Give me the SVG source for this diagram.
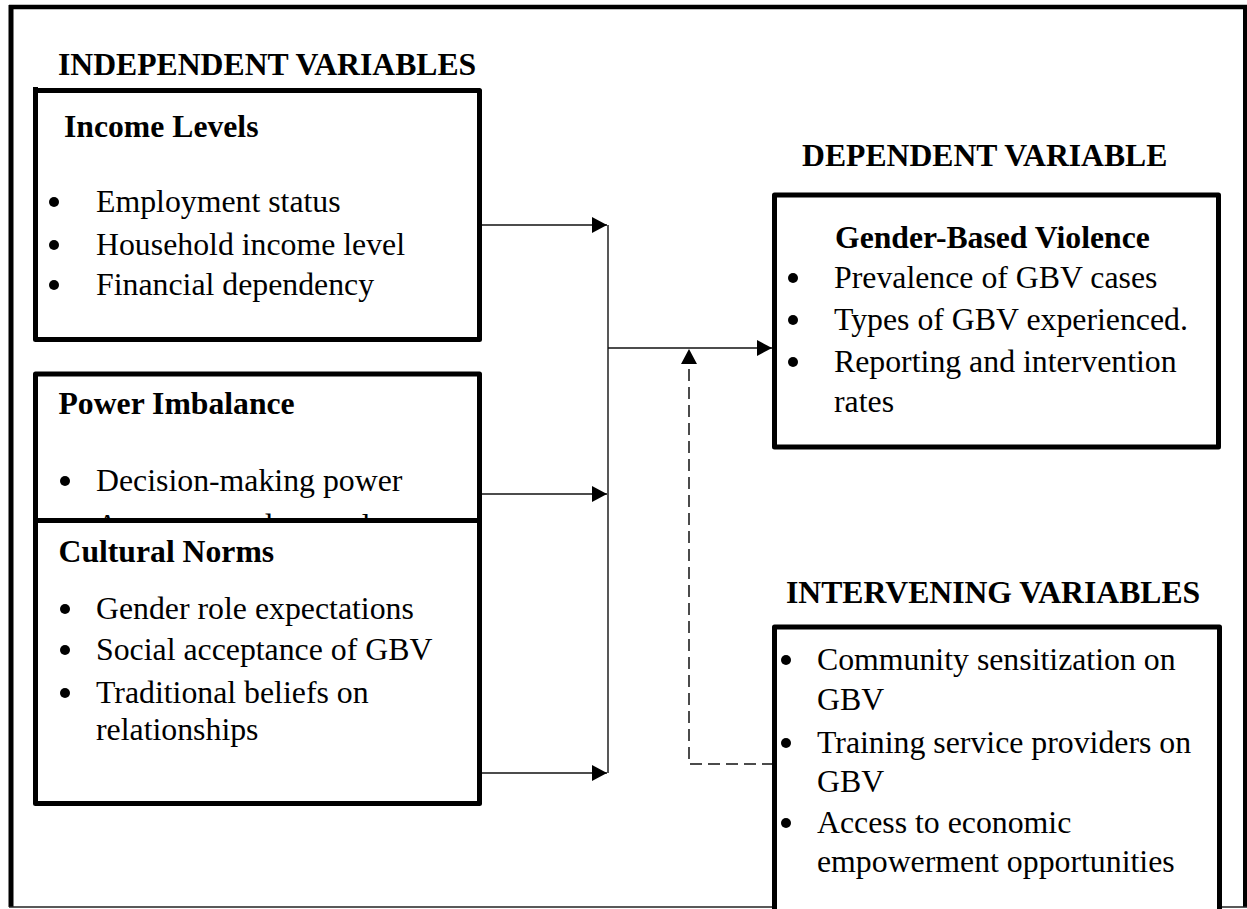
<svg xmlns="http://www.w3.org/2000/svg" width="1247" height="909" viewBox="0 0 1247 909">
<defs>
<marker id="arr" viewBox="0 0 15 16" refX="15" refY="8" markerWidth="15" markerHeight="16" markerUnits="userSpaceOnUse" orient="auto">
<path d="M0,0 L15,8 L0,16 Z" fill="#000"/>
</marker>
<clipPath id="pclip"><rect x="38" y="376" width="439" height="142"/></clipPath>
<style>
.box{fill:#fff;stroke:#000;stroke-width:5;stroke-linejoin:round}
.hd{font-family:"Liberation Serif","Times New Roman",serif;font-weight:bold;font-size:31.7px;fill:#000}
.tx{font-family:"Liberation Serif","Times New Roman",serif;font-size:31.8px;fill:#000}
.bul{fill:#000}
.con{fill:none;stroke:#111;stroke-width:1.4}
.dash{fill:none;stroke:#111;stroke-width:1.5;stroke-dasharray:12 6}
</style>
</defs>
<rect width="1247" height="909" fill="#fff"/>
<g id="frame">
<line x1="9" y1="7" x2="1247" y2="7" stroke="#000" stroke-width="4.5"/>
<line x1="11" y1="5" x2="11" y2="907" stroke="#000" stroke-width="5"/>
<line x1="1245" y1="5" x2="1245" y2="907" stroke="#000" stroke-width="4"/>
<line x1="9" y1="907" x2="1247" y2="907" stroke="#222" stroke-width="1.5"/>
</g>
<g id="headings">
<text class="hd" x="58" y="75">INDEPENDENT VARIABLES</text>
<text class="hd" x="802" y="166">DEPENDENT VARIABLE</text>
<text class="hd" x="786" y="603">INTERVENING VARIABLES</text>
</g>
<g id="connectors">
<line class="con" x1="482" y1="225" x2="607" y2="225" marker-end="url(#arr)"/>
<line class="con" x1="482" y1="494" x2="607" y2="494" marker-end="url(#arr)"/>
<line class="con" x1="482" y1="773" x2="607" y2="773" marker-end="url(#arr)"/>
<line class="con" x1="608" y1="225" x2="608" y2="773"/>
<line class="con" x1="608" y1="348" x2="772" y2="348" marker-end="url(#arr)"/>
<path class="dash" d="M774,764 L689,764 L689,349" marker-end="url(#arr)"/>
</g>
<g id="income">
<rect class="box" x="35.5" y="90.5" width="444" height="249"/>
<line x1="35.5" y1="87" x2="35.5" y2="92" stroke="#000" stroke-width="5"/>
<text class="hd" x="64" y="137">Income Levels</text>
<circle class="bul" cx="54" cy="202" r="5"/><text class="tx" x="96" y="212">Employment status</text>
<circle class="bul" cx="54" cy="245" r="5"/><text class="tx" x="96" y="255">Household income level</text>
<circle class="bul" cx="54" cy="285" r="5"/><text class="tx" x="96" y="295">Financial dependency</text>
</g>
<g id="power">
<rect class="box" x="35.5" y="374" width="444" height="160"/>
<text class="hd" x="58.5" y="414">Power Imbalance</text>
<circle class="bul" cx="65" cy="481" r="5"/><text class="tx" x="96" y="491">Decision-making power</text>
<g clip-path="url(#pclip)"><text class="tx" x="96" y="536">Access to and control</text></g>
</g>
<g id="cultural">
<rect class="box" x="35.5" y="520.5" width="444" height="283"/>
<text class="hd" x="58.5" y="562">Cultural Norms</text>
<circle class="bul" cx="65" cy="609" r="5"/><text class="tx" x="96" y="619">Gender role expectations</text>
<circle class="bul" cx="65" cy="650" r="5"/><text class="tx" x="96" y="660">Social acceptance of GBV</text>
<circle class="bul" cx="65" cy="693" r="5"/><text class="tx" x="96" y="703">Traditional beliefs on</text>
<text class="tx" x="96" y="740">relationships</text>
</g>
<g id="dependent">
<rect class="box" x="774.5" y="195" width="444" height="252"/>
<text class="hd" x="835" y="248">Gender-Based Violence</text>
<circle class="bul" cx="793" cy="278" r="5"/><text class="tx" x="834" y="288">Prevalence of GBV cases</text>
<circle class="bul" cx="793" cy="320" r="5"/><text class="tx" x="834" y="330">Types of GBV experienced.</text>
<circle class="bul" cx="793" cy="362" r="5"/><text class="tx" x="834" y="372">Reporting and intervention</text>
<text class="tx" x="834" y="412">rates</text>
</g>
<g id="intervening">
<rect class="box" x="774.5" y="627" width="445" height="320"/>
<circle class="bul" cx="786" cy="660" r="5"/><text class="tx" x="817" y="670">Community sensitization on</text>
<text class="tx" x="817" y="710">GBV</text>
<circle class="bul" cx="786" cy="743" r="5"/><text class="tx" x="817" y="753">Training service providers on</text>
<text class="tx" x="817" y="792">GBV</text>
<circle class="bul" cx="786" cy="823" r="5"/><text class="tx" x="817" y="833">Access to economic</text>
<text class="tx" x="817" y="872">empowerment opportunities</text>
</g>
</svg>
